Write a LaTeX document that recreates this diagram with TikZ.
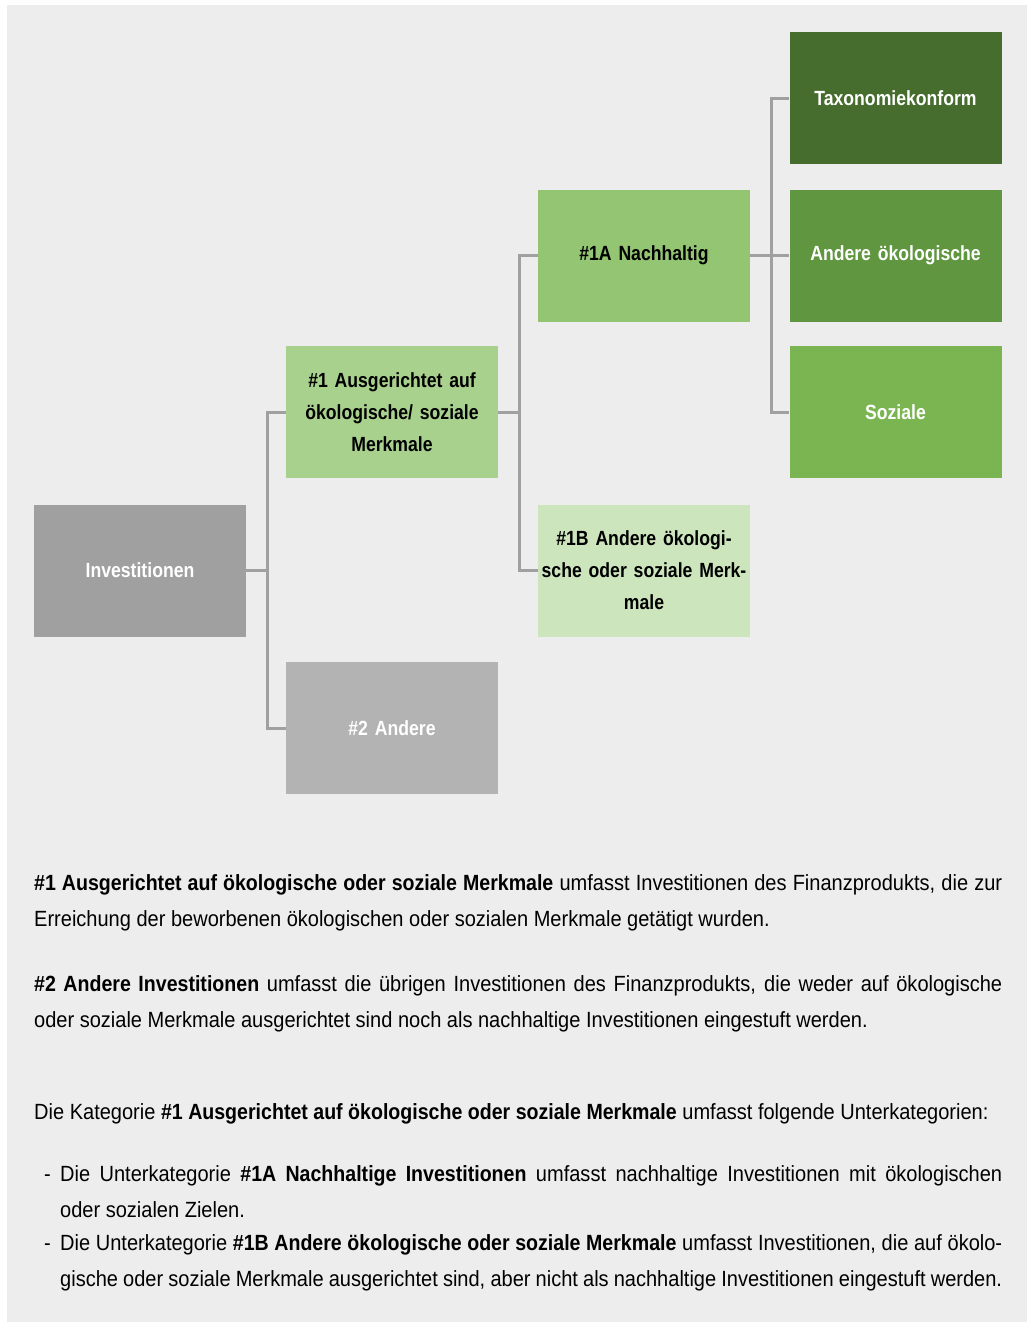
\documentclass[tikz,border=0pt]{standalone}
\usepackage{fontspec}
\setmainfont{Liberation Sans}[FakeStretch=0.91, BoldFeatures={FakeStretch=0.89}]
\newfontfamily\boxfont{Liberation Sans}[FakeStretch=0.86, BoldFeatures={FakeStretch=0.86}]
\definecolor{bggray}{HTML}{EDEDED}
\definecolor{linkgray}{HTML}{A0A0A0}
\definecolor{invgray}{HTML}{A0A0A0}
\definecolor{othgray}{HTML}{B3B3B3}
\definecolor{grpgreen}{HTML}{A9D18E}
\definecolor{susgreen}{HTML}{93C572}
\definecolor{othgreen}{HTML}{CDE5BD}
\definecolor{taxgreen}{HTML}{476D2E}
\definecolor{envgreen}{HTML}{609640}
\definecolor{socgreen}{HTML}{7AB552}
\tikzset{
  box/.style={minimum width=212, minimum height=132, inner sep=2pt, align=center,
    text width=206, font=\boxfont\fontsize{20.5}{32}\selectfont\bfseries},
  link/.style={draw=linkgray, line width=3pt},
  para/.style={anchor=base west, inner sep=0pt, text width=968, align=justify,
    font=\fontsize{22}{36}\selectfont},
}
\newcommand{\dashitem}{\makebox[26pt][l]{\hspace{10pt}-}\hangindent=26pt\hangafter=1 }
\begin{document}
\begin{tikzpicture}[x=1pt, y=-1pt, line join=miter, line cap=butt]
			\useasboundingbox (0,0) rectangle (1027,1322);
			\fill[bggray] (7,5) rectangle (1027,1322);
			\path 
			(140,570.5) coordinate (I)
			(392,412) coordinate (G)
			(392,728) coordinate (R)
			(644,255.5) coordinate (S)
			(644,570.5) coordinate (O)
			(895.5,98) coordinate (T)
			(895.5,255.5) coordinate (E)
			(895.5,412) coordinate (Z)
			;
			\node[box, fill=invgray, text=white] (inv) at (I) {Investitionen};
			\node[box, fill=grpgreen] (grp) at (G) {\#1 Ausgerichtet auf\\ökologische/ soziale\\Merkmale};
			\node[box, fill=othgray, text=white] (rest) at (R) {\#2 Andere};
			\node[box, fill=susgreen] (sus) at (S) {\#1A Nachhaltig};
			\node[box, fill=othgreen] (oth) at (O) {\#1B Andere ökologi-\\sche oder soziale Merk-\\male};
			\node[box, fill=taxgreen, text=white] (tax) at (T) {Taxonomiekonform};
			\node[box, fill=envgreen, text=white] (env) at (E) {Andere ökologische};
			\node[box, fill=socgreen, text=white] (soc) at (Z) {Soziale};
			\foreach \a/\b in {inv/grp,inv/rest,grp/sus,grp/oth,sus/tax,sus/env,sus/soc}
			\draw[link] (\a.east) -- ++(21,0) |- (\b.west);
			
			\node[para] (def1) at (34,890) {\textbf{\#1 Ausgerichtet auf ökologische oder soziale Merkmale} umfasst Investitionen des Finanzprodukts, die zur\linebreak Erreichung der beworbenen ökologischen oder sozialen Merkmale getätigt wurden.};
			\node[para] (def2) at (34,991) {\textbf{\#2 Andere Investitionen} umfasst die übrigen Investitionen des Finanzprodukts, die weder auf ökologische\linebreak oder soziale Merkmale ausgerichtet sind noch als nachhaltige Investitionen eingestuft werden.};
			\node[para] (cat) at (34,1119) {Die Kategorie \textbf{\#1 Ausgerichtet auf ökologische oder soziale Merkmale} umfasst folgende Unterkategorien:};
			\node[para] (sub1) at (34,1181) {\dashitem Die Unterkategorie \textbf{\#1A Nachhaltige Investitionen} umfasst nachhaltige Investitionen mit ökologischen\linebreak oder sozialen Zielen.\par};
			\node[para] (sub2) at (34,1250) {\dashitem Die Unterkategorie \textbf{\#1B Andere ökologische oder soziale Merkmale} umfasst Investitionen, die auf ökolo-\linebreak gische oder soziale Merkmale ausgerichtet sind, aber nicht als nachhaltige Investitionen eingestuft werden.\par};
			\end{tikzpicture}
\end{document}
